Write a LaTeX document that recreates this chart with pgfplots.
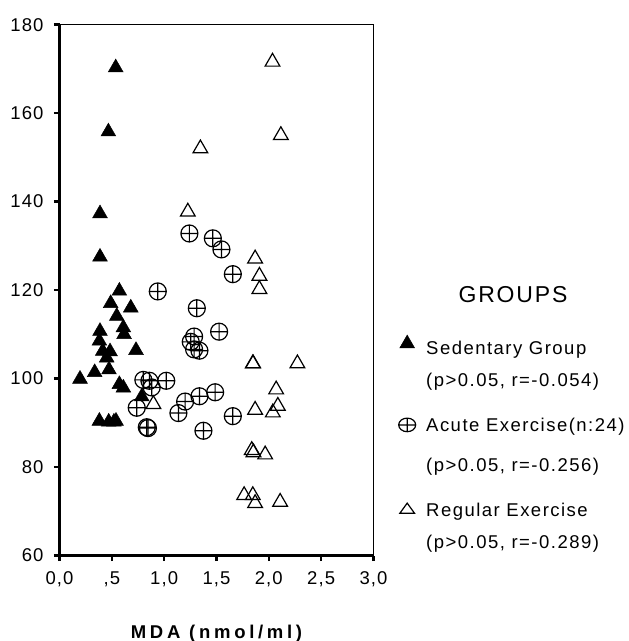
\documentclass[border=0pt]{standalone}
\usepackage{fontspec}
\setmainfont{Liberation Sans}
\newfontfamily\legfont[LetterSpace=8]{Liberation Sans}
\newfontfamily\tickfont[LetterSpace=6]{Liberation Sans}
\newfontfamily\labfont[LetterSpace=20]{Liberation Sans}
\usepackage{pgfplots}
\pgfplotsset{compat=1.18}
\pgfplotsset{
  legsed/.style={legend image code/.code={\draw[##1] plot coordinates {(0bp,20.2bp)};}},
  legacu/.style={legend image code/.code={\draw[##1,mark options={draw=black,line width=1.2bp,yscale=0.8}] plot coordinates {(0bp,20.2bp)};}},
  legreg/.style={legend image code/.code={\draw[##1,mark options={draw=black,line width=1.2bp,yscale=0.8}] plot coordinates {(0bp,16.5bp)};}},
}
\begin{document}
\begin{tikzpicture}
\useasboundingbox (0,0) rectangle (629bp,641bp);
\begin{axis}[scale only axis,width=314bp,height=530.8bp,at={(59.5bp,85.5bp)},anchor=south west,
  xmin=0,xmax=3,ymin=60,ymax=180,clip=false,
  xtick={0,0.5,1,1.5,2,2.5,3},xticklabels={{0,0},{,5},{1,0},{1,5},{2,0},{2,5},{3,0}},
  ytick={60,80,100,120,140,160,180},
  tick align=outside,xtick pos=left,ytick pos=left,
  tick style={line width=2.5bp,black},major tick length=5.5bp,
  axis line style={line width=0.8bp},
  ticklabel style={font=\tickfont\fontsize{18.5bp}{22bp}\selectfont},
  yticklabel style={/pgf/number format/assume math mode=true,xshift=-7bp},
  xticklabel style={yshift=-7bp},
  xlabel={\labfont\bfseries MDA (nmol/ml)},
  xlabel style={at={(axis description cs:0.5,-0.156)},anchor=base,font=\fontsize{18.5bp}{22bp}\selectfont},
  legend cell align=left,
  legend style={draw=none,fill=none,inner sep=0pt,nodes={inner sep=0pt,text depth=},
    column sep=10.5bp,row sep=13.3bp,
    at={(axis description cs:1.0796,0.4218)},anchor=north west,
    font=\legfont\fontsize{18.5bp}{32bp}\selectfont},
]
\addplot[only marks,mark=triangle*,mark size=8.5bp,mark options={fill=black,draw=black,line width=0.5bp},legsed] coordinates {
(0.537,170.3)(0.467,155.8)(0.387,137.3)(0.387,127.5)(0.572,119.8)(0.489,117.0)
(0.681,116.0)(0.547,114.1)(0.610,111.5)(0.387,110.7)(0.617,110.0)(0.381,108.5)
(0.413,106.2)(0.483,106.1)(0.731,106.4)(0.451,104.7)(0.473,102.0)(0.336,101.4)
(0.196,99.9)(0.572,98.7)(0.610,97.9)(0.786,95.9)(0.381,90.4)(0.470,90.2)
(0.520,90.2)(0.540,90.4)};
\addlegendentry{\begin{tabular}{@{}l@{}}Sedentary Group\\(p>0.05, r=-0.054)\end{tabular}}
\addplot[only marks,mark=oplus,mark size=8.5bp,mark options={draw=black,line width=1.2bp},legacu] coordinates {
(1.241,132.8)(1.465,131.7)(1.547,129.2)(1.656,123.6)(0.939,119.7)(1.312,115.9)
(1.525,110.6)(1.286,109.5)(1.254,108.3)(1.286,106.6)(1.337,106.3)(0.801,99.7)
(0.859,99.5)(0.881,98.0)(1.020,99.5)(1.487,96.9)(1.337,96.0)(1.200,94.8)
(0.738,93.4)(1.136,92.2)(1.656,91.5)(0.834,89.0)(0.845,88.8)(1.375,88.2)};
\addlegendentry{\begin{tabular}{@{}l@{}}Acute Exercise(n:24)\\[8bp](p>0.05, r=-0.256)\end{tabular}}
\addplot[only marks,mark=triangle,mark size=8.5bp,mark options={draw=black,line width=1.2bp},legreg] coordinates {
(2.035,171.6)(2.115,155.0)(1.346,152.0)(1.226,137.7)(1.869,127.1)(1.910,123.2)
(1.910,120.2)(1.847,103.4)(1.850,103.4)(2.273,103.4)(2.070,97.5)(1.869,92.9)
(2.086,93.8)(2.038,92.3)(0.897,94.2)(1.837,83.8)(1.853,83.3)(1.965,82.8)
(1.764,73.6)(1.847,73.6)(1.869,71.8)(2.108,72.1)};
\addlegendentry{\begin{tabular}{@{}l@{}}Regular Exercise\\(p>0.05, r=-0.289)\end{tabular}}
\draw[line width=2bp] (rel axis cs:0,1) -- (rel axis cs:0,0) -- (rel axis cs:1,0);
\end{axis}
\node[font=\legfont\fontsize{23bp}{26bp}\selectfont] at (513bp,346bp) {GROUPS};
\end{tikzpicture}
\end{document}
